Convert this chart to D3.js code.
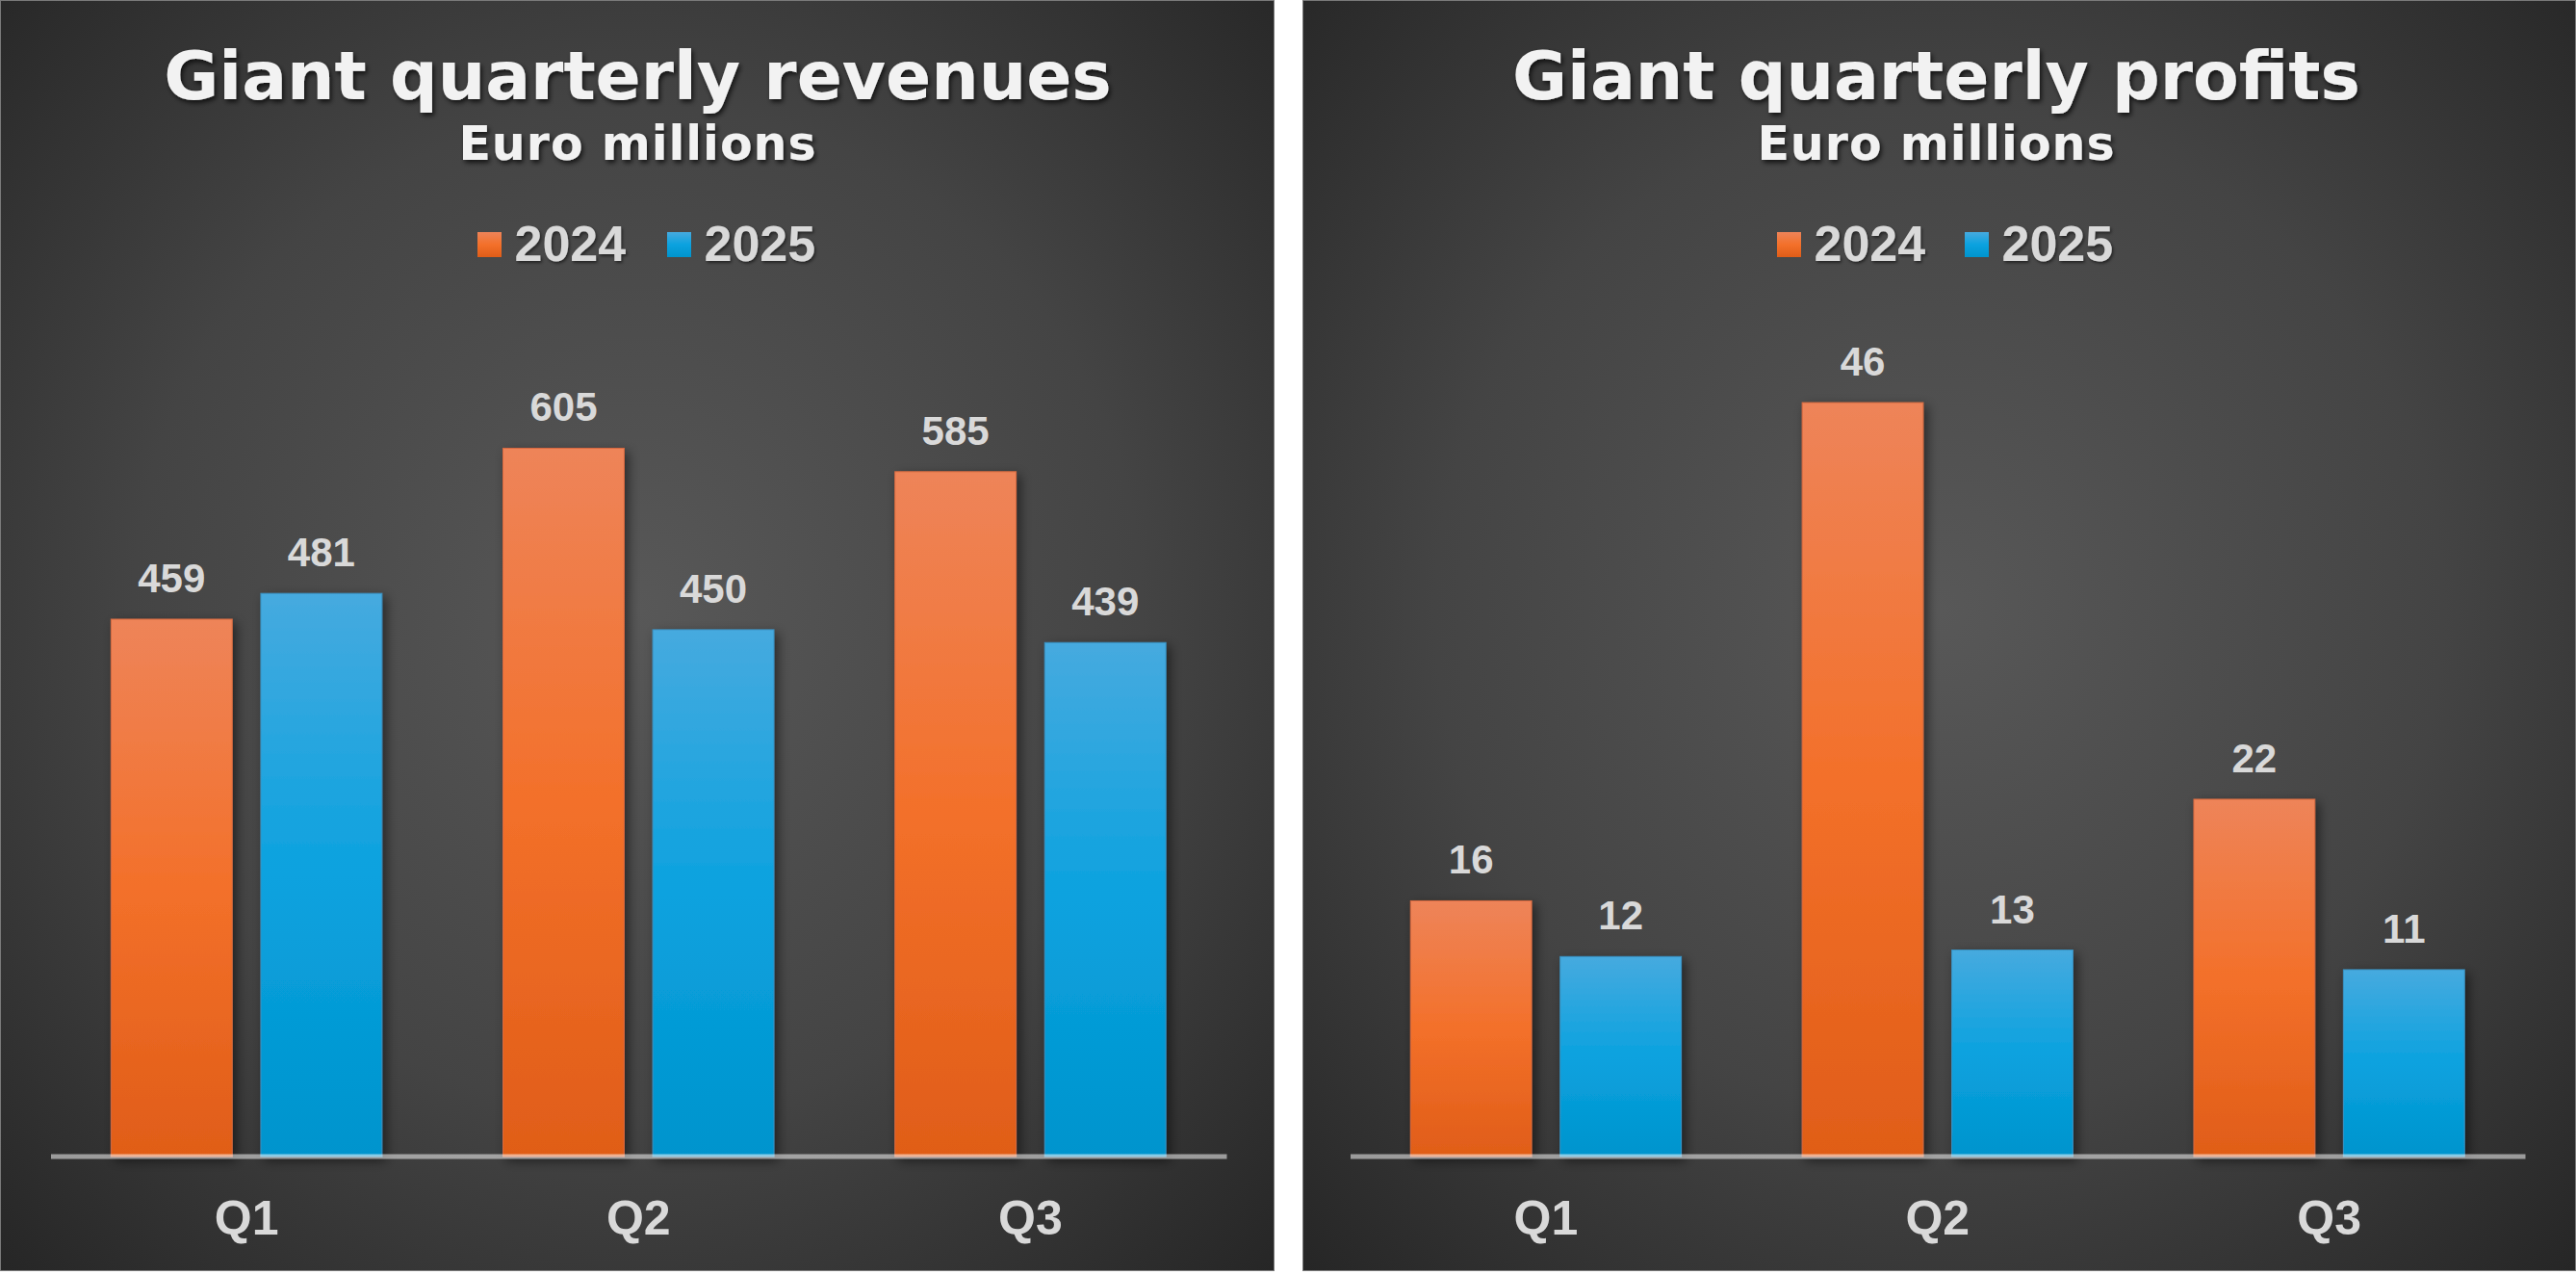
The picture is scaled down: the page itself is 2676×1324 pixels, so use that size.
<!DOCTYPE html>
<html>
<head>
<meta charset="utf-8">
<script src="https://cdn.jsdelivr.net/npm/d3@7"></script>
<style>
  html, body { margin: 0; padding: 0; background: #ffffff; }
  svg { display: block; }
</style>
</head>
<body>
<script>
// ---- Data ----
const quarters = ["Q1", "Q2", "Q3"];
const years = ["2024", "2025"];
const revenue2024 = [459, 605, 585];
const revenue2025 = [481, 450, 439];
const profit2024 = [15.6, 46.0, 21.8];
const profit2025 = [12.2, 12.6, 11.4];
const titles = ["Giant quarterly revenues", "Giant quarterly profits"];
const subtitle = "Euro millions";

// ---- Layout (not data) ----
const W = 2676, H = 1324;
const panels = [
  { x: 0, w: 1324, title: titles[0], s2024: revenue2024, s2025: revenue2025, yMax: 700,
    axis: [52.5, 1274], titleCx: 662.5, legendX: 496, legendGap: 197 },
  { x: 1353, w: 1323, title: titles[1], s2024: profit2024, s2025: profit2025, yMax: 50,
    axis: [49.5, 1270], titleCx: 658.5, legendX: 493, legendGap: 195 }
];
const panelH = 1320;
const baseY = 1201, topY = 350;

const svg = d3.select("body").append("svg").attr("width", W).attr("height", H);
const defs = svg.append("defs");

const bg = defs.append("radialGradient").attr("id", "bg")
  .attr("cx", "50%").attr("cy", "48%").attr("r", "72%");
bg.append("stop").attr("offset", "0%").attr("stop-color", "#585858");
bg.append("stop").attr("offset", "55%").attr("stop-color", "#444444");
bg.append("stop").attr("offset", "100%").attr("stop-color", "#262626");

const grads = {
  "2024": [["0%", "#ee8459"], ["50%", "#f3702a"], ["100%", "#e05d18"]],
  "2025": [["0%", "#46aadf"], ["50%", "#0ba2df"], ["100%", "#0094cd"]]
};
Object.entries(grads).forEach(([k, stops]) => {
  const g = defs.append("linearGradient").attr("id", "g" + k)
    .attr("x1", 0).attr("y1", 0).attr("x2", 0).attr("y2", 1);
  stops.forEach(([o, c]) => g.append("stop").attr("offset", o).attr("stop-color", c));
});
const strokeCol = { "2024": "#d86a40", "2025": "#3a93c4" };

const fBar = defs.append("filter").attr("id", "barShadow")
  .attr("x", "-20%").attr("y", "-10%").attr("width", "150%").attr("height", "130%");
fBar.append("feDropShadow").attr("dx", 4).attr("dy", 4).attr("stdDeviation", 6)
  .attr("flood-color", "#000").attr("flood-opacity", 0.5);

const fText = defs.append("filter").attr("id", "textShadow")
  .attr("x", "-10%").attr("y", "-30%").attr("width", "120%").attr("height", "160%");
fText.append("feDropShadow").attr("dx", 2).attr("dy", 3).attr("stdDeviation", 2.5)
  .attr("flood-color", "#000").attr("flood-opacity", 0.7);

const fSmall = defs.append("filter").attr("id", "smallShadow")
  .attr("x", "-10%").attr("y", "-30%").attr("width", "120%").attr("height", "160%");
fSmall.append("feDropShadow").attr("dx", 1.5).attr("dy", 2).attr("stdDeviation", 1.5)
  .attr("flood-color", "#000").attr("flood-opacity", 0.5);

const fmt = d3.format(".0f");

panels.forEach(p => {
  const g = svg.append("g").attr("transform", `translate(${p.x},0)`);

  g.append("rect").attr("x", 0.5).attr("y", 0.5).attr("width", p.w - 1).attr("height", panelH - 1)
    .attr("fill", "url(#bg)").attr("stroke", "#7a7a7a").attr("stroke-width", 1);

  // Titles
  g.append("text").attr("x", p.titleCx).attr("y", 103).attr("text-anchor", "middle")
    .attr("font-family", "DejaVu Sans").attr("font-weight", "bold").attr("font-size", 69.5)
    .attr("fill", "#f2f2f2").attr("filter", "url(#textShadow)").text(p.title);
  g.append("text").attr("x", p.titleCx).attr("y", 166).attr("text-anchor", "middle")
    .attr("font-family", "DejaVu Sans").attr("font-weight", "bold").attr("font-size", 49)
    .attr("letter-spacing", 1)
    .attr("fill", "#f2f2f2").attr("filter", "url(#textShadow)").text(subtitle);

  // Legend
  const lg = g.selectAll("g.leg").data(years).join("g").attr("class", "leg")
    .attr("transform", (d, i) => `translate(${p.legendX + i * p.legendGap},0)`);
  lg.append("rect").attr("x", 0).attr("y", 241).attr("width", 25).attr("height", 26)
    .attr("fill", d => `url(#g${d})`);
  lg.append("text").attr("x", 38.5).attr("y", 271)
    .attr("font-family", "Liberation Sans").attr("font-weight", "bold").attr("font-size", 52)
    .attr("fill", "#d9d9d9").attr("filter", "url(#smallShadow)").text(d => d);

  // Scales
  const x0 = d3.scaleBand().domain(quarters).range(p.axis).paddingInner(0).paddingOuter(0);
  const x1 = d3.scaleBand().domain(years).range([0, x0.bandwidth()])
    .paddingInner(0.191).paddingOuter(0.404);
  const y = d3.scaleLinear().domain([0, p.yMax]).range([baseY, topY]);

  const rows = quarters.map((q, i) => ({ q, vals: [
    { year: "2024", v: p.s2024[i] }, { year: "2025", v: p.s2025[i] } ] }));

  const groups = g.selectAll("g.grp").data(rows).join("g").attr("class", "grp")
    .attr("transform", d => `translate(${x0(d.q)},0)`);

  groups.selectAll("rect.bar").data(d => d.vals).join("rect").attr("class", "bar")
    .attr("x", d => x1(d.year)).attr("width", x1.bandwidth())
    .attr("y", d => y(d.v)).attr("height", d => y(0) - y(d.v))
    .attr("fill", d => `url(#g${d.year})`)
    .attr("stroke", d => strokeCol[d.year]).attr("stroke-width", 1)
    .attr("filter", "url(#barShadow)");

  groups.selectAll("text.lbl").data(d => d.vals).join("text").attr("class", "lbl")
    .attr("x", d => x1(d.year) + x1.bandwidth() / 2).attr("y", d => y(d.v) - 28)
    .attr("text-anchor", "middle")
    .attr("font-family", "Liberation Sans").attr("font-weight", "bold").attr("font-size", 42)
    .attr("fill", "#d9d9d9").text(d => fmt(d.v));

  // Axis
  const ax = g.append("g").attr("transform", `translate(0,${baseY - 0.5})`)
    .call(d3.axisBottom(x0).tickSize(0).tickSizeOuter(0).tickPadding(46));
  ax.select(".domain").attr("stroke", "#ffffff").attr("stroke-opacity", 0.52).attr("stroke-width", 5);
  ax.selectAll(".tick text")
    .attr("font-family", "Liberation Sans").attr("font-weight", "bold").attr("font-size", 50)
    .attr("fill", "#d9d9d9");
});
</script>
</body>
</html>
